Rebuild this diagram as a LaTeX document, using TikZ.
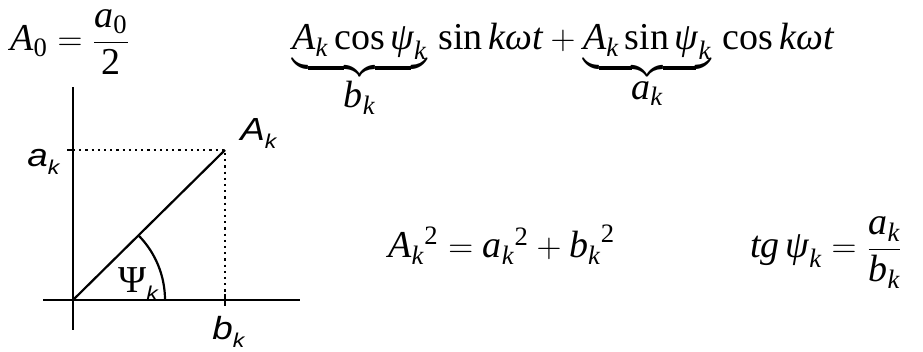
\documentclass[tikz,border=0pt]{standalone}
\usepackage{amsmath}
\usepackage{fontspec}
\setmainfont{Liberation Serif}
\newfontfamily\labfont[FakeStretch=1.15]{Liberation Sans}
\newcommand{\vv}[1]{\textit{#1}}
\newcommand{\sub}[1]{\raisebox{-4pt}{\fontsize{10}{12}\selectfont\labfont\itshape #1}}
\newcommand{\lab}[2]{{\labfont\itshape #1\sub{#2}}}
\tikzset{
  axis/.style={line width=1.1pt},
  guide/.style={line width=1.1pt, dotted},
  eq/.style={inner sep=0pt, anchor=base west, font=\fontsize{19}{23}\selectfont},
  lbl/.style={inner sep=0pt, anchor=base west, font=\fontsize{16}{19}\selectfont}
}
\begin{document}
\begin{tikzpicture}[x=0.5pt, y=-0.5pt]
\useasboundingbox (0,0) rectangle (923,352);
% equations
\node[eq] (azero) at (10,51) {$\vv{A}_{\textup{0}} = \dfrac{\vv{a}_{\textup{0}}}{\textup{2}}$};
\node[eq] (harm) at (292,50) {$\underbrace{\vv{A}_{\vv{k}}\,\textup{cos}\,\vv{ψ}_{\vv{k}}}_{\textstyle\vv{b}_{\vv{k}}}\,\textup{sin}\,\vv{kωt} + \underbrace{\vv{A}_{\vv{k}}\,\textup{sin}\,\vv{ψ}_{\vv{k}}}_{\textstyle\vv{a}_{\vv{k}}}\,\textup{cos}\,\vv{kωt}$};
\node[eq] (ampl) at (388,258) {${\vv{A}_{\vv{k}}}^{\textup{2}} = {\vv{a}_{\vv{k}}}^{\textup{2}} + {\vv{b}_{\vv{k}}}^{\textup{2}}$};
\node[eq] (phase) at (750,258) {$\vv{tg}\,\vv{ψ}_{\vv{k}} = \dfrac{\vv{a}_{\vv{k}}}{\vv{b}_{\vv{k}}}$};
% vector diagram
\coordinate (O) at (73,300);
\coordinate (P) at (225,150);
\coordinate (ytop) at (73,87);
\coordinate (ybot) at (73,330);
\coordinate (xleft) at (43,300);
\coordinate (xright) at (300,300);
\draw[axis] (ybot) -- (ytop);
\draw[axis] (xleft) -- (xright);
\draw[guide] (O |- P) -- (P) -- (P |- O);
\draw[axis] ([xshift=-3pt]O |- P) -- (O |- P);
\draw[axis] ([yshift=-3pt]P |- O) -- ([yshift=3pt]P |- O);
\draw[axis] (O) -- (P);
\draw[axis] ([xshift=46pt]O) arc[start angle=0, end angle=-44.6, radius=92];
\node[lbl] (alab) at (27,167) {\lab{a}{k}};
\node[lbl] (Alab) at (240,141) {\lab{A}{k}};
\node[lbl] (blab) at (212,340) {\lab{b}{k}};
\node[lbl] (psilab) at (118,293) {{\fontsize{19}{23}\selectfont Ψ}\sub{k}};
\end{tikzpicture}
\end{document}
